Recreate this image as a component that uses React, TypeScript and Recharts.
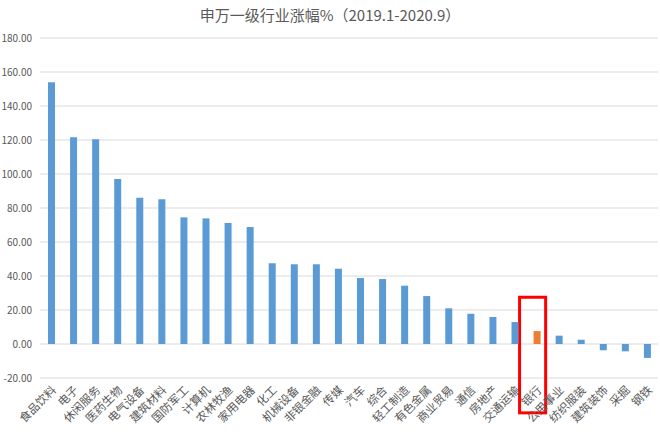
import React from "react";
import { BarChart, Bar, XAxis, YAxis, CartesianGrid, Cell, ReferenceArea } from "recharts";

const industries = [
  "食品饮料", "电子", "休闲服务", "医药生物", "电气设备", "建筑材料", "国防军工",
  "计算机", "农林牧渔", "家用电器", "化工", "机械设备", "非银金融", "传媒",
  "汽车", "综合", "轻工制造", "有色金属", "商业贸易", "通信", "房地产",
  "交通运输", "银行", "公用事业", "纺织服装", "建筑装饰", "采掘", "钢铁",
];

const gains = [
  153.9, 121.6, 120.4, 97.1, 86.1, 85.1, 74.5,
  73.9, 71.2, 68.8, 47.5, 46.9, 46.9, 44.3,
  38.8, 38.2, 34.3, 28.2, 21.0, 17.8, 15.9,
  12.9, 7.6, 4.9, 2.5, -3.7, -4.3, -8.2,
];

const yTicks = [-20, 0, 20, 40, 60, 80, 100, 120, 140, 160, 180];

const highlight = "银行";

const data = industries.map((name, i) => ({ name, value: gains[i] }));

const FONT = '"Noto Sans CJK SC", "Noto Sans", sans-serif';

const XTick = (props: any) => {
  const { x, y, payload } = props;
  const px = x + 3;
  const py = y + 2;
  return (
    <text
      x={px}
      y={py}
      transform={`rotate(-45 ${px} ${py})`}
      textAnchor="end"
      dy="0.35em"
      fontSize={11.5}
      fill="#595959"
      fontFamily={FONT}
    >
      {payload.value}
    </text>
  );
};

export default function App() {
  return (
    <div style={{ position: "absolute", left: 0, top: 0, width: 660, height: 432, background: "#fff" }}>
      <div
        style={{
          position: "absolute",
          top: 4,
          left: 0,
          width: 660,
          textAlign: "center",
          fontFamily: FONT,
          fontSize: 15,
          color: "#595959",
        }}
      >
        申万一级行业涨幅%（2019.1-2020.9）
      </div>
      <BarChart
        width={660}
        height={432}
        data={data}
        margin={{ top: 38, right: 2, bottom: 0, left: 0 }}
      >
        <CartesianGrid vertical={false} stroke="#D9D9D9" />
        <XAxis
          dataKey="name"
          interval={0}
          axisLine={false}
          tickLine={false}
          height={54}
          tick={<XTick />}
        />
        <YAxis
          width={40}
          domain={[-20, 180]}
          ticks={yTicks}
          axisLine={false}
          tickLine={false}
          tickFormatter={(v: number) => v.toFixed(2)}
          tick={{ fontSize: 10, fill: "#595959", fontFamily: FONT }}
        />
        <Bar dataKey="value" barSize={7} isAnimationActive={false}>
          {data.map((d, i) => (
            <Cell key={`c-${i}`} fill={d.name === highlight ? "#ED7D31" : "#5B9BD5"} />
          ))}
        </Bar>
        <ReferenceArea
          x1={highlight}
          x2={highlight}
          y1={27.5}
          y2={-40.5}
          ifOverflow="visible"
          shape={(p: any) => (
            <rect
              x={p.x - 6}
              y={p.y}
              width={p.width + 4}
              height={p.height}
              fill="none"
              stroke="#FF0000"
              strokeWidth={3}
            />
          )}
        />
      </BarChart>
    </div>
  );
}
